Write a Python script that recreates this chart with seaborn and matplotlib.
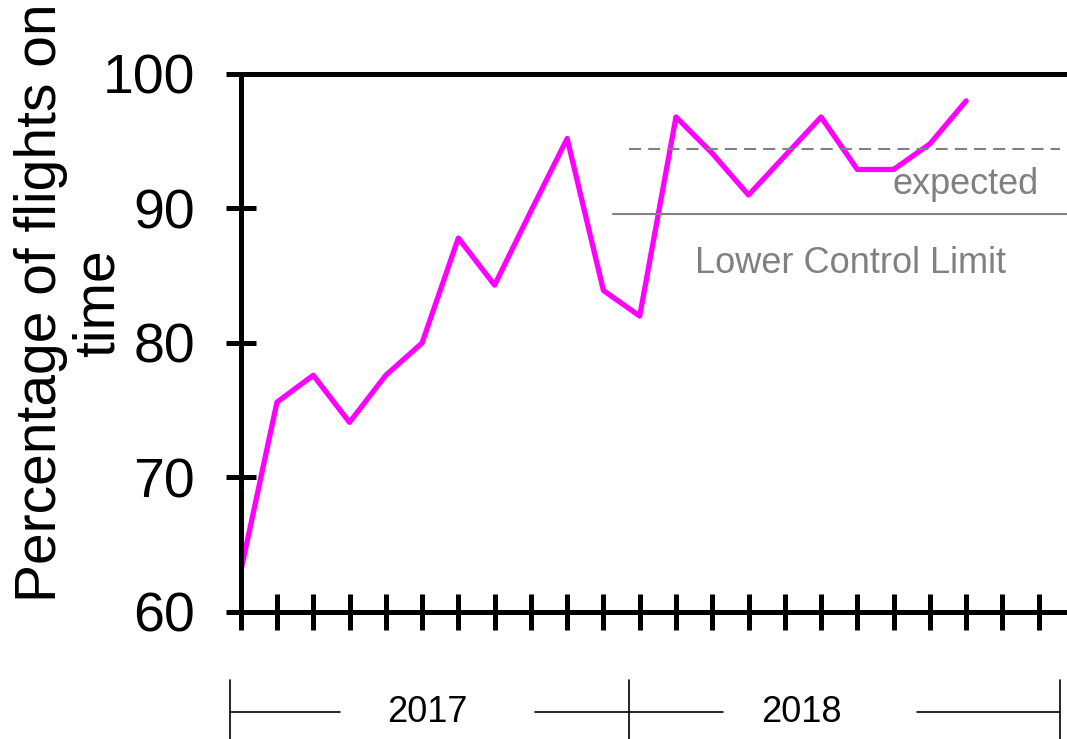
import matplotlib
matplotlib.use("Agg")
import matplotlib.pyplot as plt
import matplotlib.transforms as mtransforms
import pandas as pd
import seaborn as sns

# Monthly share of flights on time (Jan 2017 .. Sep 2018)
positions = list(range(21))
on_time = [63.0, 75.6, 77.6, 74.1, 77.6, 80.0, 87.8, 84.3, 89.8, 95.2, 83.9, 82.0,
           96.8, 94.1, 91.0, 93.9, 96.8, 92.9, 92.9, 94.8, 98.0]
tick_positions = list(range(23))
y_ticks = [60, 70, 80, 90, 100]
expected = 94.4
lower_control_limit = 89.6
years = ["2017", "2018"]

df = pd.DataFrame({"pos": positions, "value": on_time})

sns.set_style("white")
plt.rcParams["font.family"] = ["Liberation Sans", "DejaVu Sans"]
plt.rcParams["text.color"] = "black"
plt.rcParams["axes.labelcolor"] = "black"

fig = plt.figure(figsize=(10.67, 7.39), dpi=100)
ax = fig.add_axes([0.2256, 0.1719, 0.7744, 0.728])

sns.lineplot(data=df, x="pos", y="value", color="#ff00ff", linewidth=3.8, ax=ax)

# reference lines
ax.plot([10.7, 22.6], [expected, expected], color="#808080", lw=1.5,
        linestyle=(0, (5.8, 3.4)))
ax.plot([10.27, 23.0], [lower_control_limit, lower_control_limit], color="#808080", lw=1.5)
ax.text(22.0, 91.8, "expected", color="#808080", fontsize=26, ha="right", va="center")
ax.text(16.8, 85.9, "Lower Control Limit", color="#808080", fontsize=26, ha="center", va="center")

ax.set_xlim(0, 22.78)
ax.set_ylim(60, 100)
ax.set_xticks(tick_positions)
ax.set_xticklabels([])
ax.set_yticks(y_ticks)
ax.set_yticklabels([str(v) for v in y_ticks])
ax.tick_params(axis="y", left=True, direction="inout", length=22, width=3.6, labelsize=40,
               pad=22, colors="black", labelcolor="black")
ax.tick_params(axis="x", bottom=True, direction="inout", length=26, width=3.6, colors="black")
ax.set_xlabel("")

ax.set_ylabel("Percentage of flights on\ntime", fontsize=41, linespacing=1.1, color="black")
ax.yaxis.set_label_coords(-0.207, 0.574)
ax.yaxis.label.set_verticalalignment("center")

for side in ["left", "bottom", "top"]:
    ax.spines[side].set_linewidth(3.6)
    ax.spines[side].set_color("black")
ax.spines["right"].set_visible(False)

# year brackets below the axis
trans = mtransforms.blended_transform_factory(ax.transData, ax.transAxes)
yb = -0.186
for xv in [-0.29, 10.7, 22.6]:
    ax.plot([xv, xv], [-0.126, -0.26], color="black", lw=1.2, transform=trans, clip_on=False)
for x0, x1 in [(-0.29, 2.74), (8.11, 10.7), (10.7, 13.30), (18.64, 22.6)]:
    ax.plot([x0, x1], [yb, yb], color="black", lw=1.2, transform=trans, clip_on=False)
for xc, label in zip([5.14, 15.45], years):
    ax.text(xc, yb, label, fontsize=26, ha="center", va="center", transform=trans, color="black")

fig.savefig("out.png", dpi=100)
